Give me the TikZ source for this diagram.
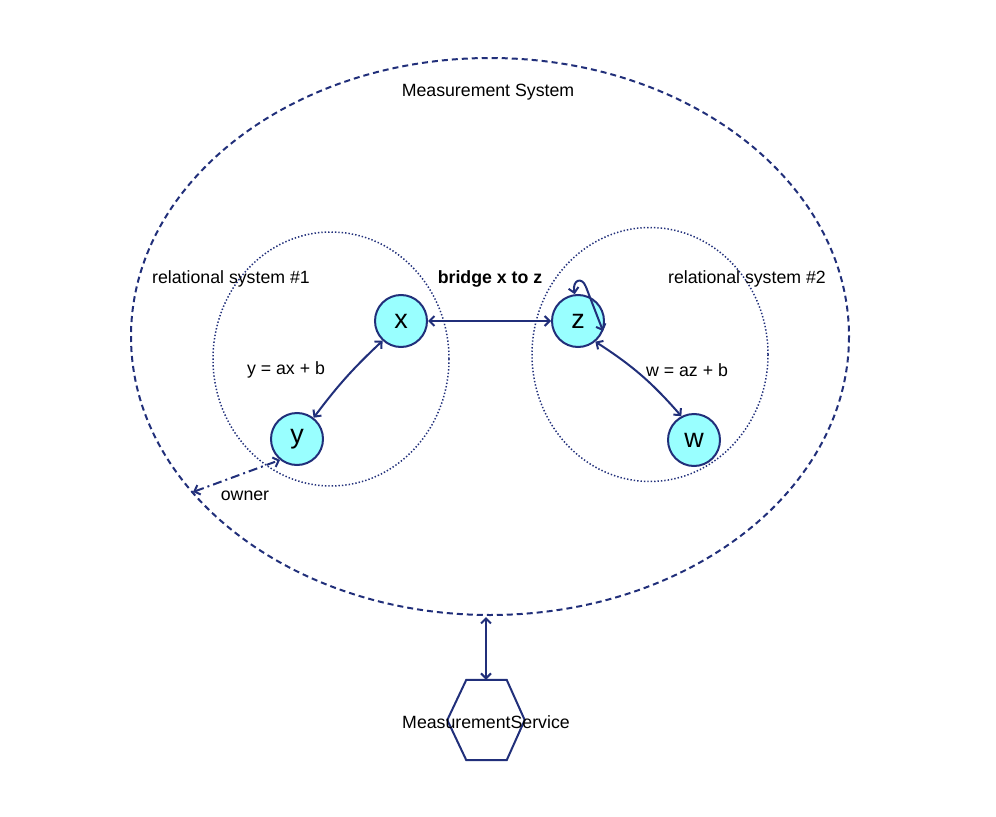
\documentclass[tikz,border=0pt]{standalone}
\usepackage{fontspec}
\setmainfont{Liberation Sans}
\usetikzlibrary{arrows.meta,calc}
\definecolor{navy}{RGB}{33,47,122}
\definecolor{cyanfill}{RGB}{153,255,255}
\begin{document}
\begin{tikzpicture}[x=1bp,y=-1bp,
  lbl/.style={font=\fontsize{17.8}{20}\selectfont, inner sep=0pt},
  var/.style={circle, draw=navy, fill=cyanfill, line width=2bp, minimum size=52bp, inner sep=0pt, font=\fontsize{27}{28}\selectfont},
  conn/.style={draw=navy, line width=2bp, {Straight Barb[length=5bp,width=10bp]}-{Straight Barb[length=5bp,width=10bp]}},
  bigsys/.style={draw=navy, line width=2bp, dash pattern=on 6bp off 4bp},
  relsys/.style={draw=navy, line width=1.5bp, dash pattern=on 1.4bp off 2bp}]
\useasboundingbox (0,0) rectangle (996,817);
% systems
\draw[bigsys] (490,336.5) ellipse [x radius=359, y radius=278.5];
\draw[relsys] (331,359) ellipse [x radius=118, y radius=127];
\draw[relsys] (650,354.5) ellipse [x radius=118, y radius=127];
% labels
\node[lbl] (tms) at (488,92) {Measurement System};
\node[lbl] (tr1) at (231,279) {relational system \#1};
\node[lbl] (tr2) at (747,279) {relational system \#2};
\node[lbl, font=\fontsize{17.8}{20}\selectfont\bfseries] (tbr) at (490,279) {bridge x to z};
\node[lbl] (tyx) at (286,370) {y = ax + b};
\node[lbl] (twz) at (687,370) {w = az + b};
\node[lbl] (tow) at (245,496) {owner};
% variables
\node[var] (x) at (401,321) {x};
\node[var] (z) at (578,321) {z};
\node[var] (y) at (297,439) {y};
\node[var] (w) at (694,440) {w};
% service
\node[inner sep=0pt, minimum width=77bp, minimum height=80bp] (ms) at (486,720) {};
\draw[navy, line width=2bp, line join=miter]
  (ms.west) -- ($(ms.north west)+(19,0)$) -- ($(ms.north east)+(-18,0)$) -- (ms.east)
  -- ($(ms.south east)+(-18,0)$) -- ($(ms.south west)+(19,0)$) -- cycle;
\node[lbl] (mst) at ($(ms.center)+(0,2)$) {MeasurementService};
\coordinate (msbot) at (486,617);
\coordinate (own) at (193,492);
% connectors
\draw[conn] (x) -- (z);
\draw[conn] (x.227) to[bend right=5] (y.52);
\draw[conn] (z.-50) to[bend left=8] (w.118);
\draw[conn] (z.97) .. controls (572,280) and (582,276) .. (586,287) -- (z.-22);
\draw[conn] (msbot) -- (ms.north);
\draw[conn, dash pattern=on 9bp off 4bp on 2bp off 4bp] (own) -- (y.231);
\end{tikzpicture}
\end{document}
